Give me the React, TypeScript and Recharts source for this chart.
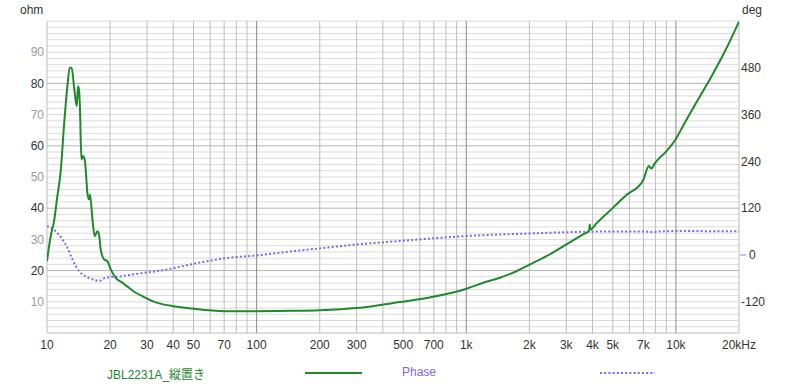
import React from 'react';
import { LineChart, Line, XAxis, YAxis, ReferenceLine, Legend } from 'recharts';

// impedance (ohm), frequency in Hz
const impFreq = [10, 10.41, 10.8, 11.2, 11.63, 12.05, 12.51, 12.83, 13.12, 13.45, 13.86, 14.06, 14.21, 14.37, 14.59, 14.85, 15.13, 15.3, 15.58, 15.86, 16.04, 16.47, 16.89, 17.4, 17.71, 18.04, 18.71, 19.42, 20.14, 21.27, 22.89, 24.62, 26.5, 28.5, 31.8, 36.2, 40, 50, 70, 100, 150, 200, 300, 481, 694, 1002, 1203, 1445, 1736, 2084, 2502, 3006, 3608, 3860, 3882, 3910, 4200, 5000, 5808, 6976, 7432, 7640, 7918, 9016, 10000, 10800, 12500, 14800, 17000, 20000];
const impOhm = [23, 31, 35.8, 43.8, 52, 66.3, 79.1, 85, 85, 79.1, 72.7, 79.1, 78, 71.6, 55.6, 56.7, 55.5, 52.4, 44.9, 42.8, 44.4, 36.4, 31, 32.6, 31.6, 26.8, 23.6, 23, 20.4, 17.7, 16.1, 14.5, 12.9, 11.8, 10.2, 9.1, 8.6, 7.75, 7.0, 7.0, 7.1, 7.3, 8.0, 9.9, 11.6, 14.2, 16.1, 17.7, 19.8, 22.5, 25.2, 28.4, 31.6, 32.8, 34.8, 33.2, 35.3, 40.1, 44.2, 48.9, 53.5, 52.7, 54.3, 58.3, 62.2, 66.3, 73.8, 82.3, 89.8, 99.8];

// phase (deg)
const phFreq = [10, 10.98, 11.84, 12.51, 13.22, 14.21, 15.3, 16.47, 17.71, 19.06, 22.05, 27.5, 36.2, 53.5, 70, 100, 120, 200, 300, 481, 694, 1002, 2084, 4000, 7000, 7800, 8500, 10000, 20000];
const phDeg = [74, 61.4, 40, 19, -11, -41, -55, -62, -66.5, -58, -55, -47.6, -38.4, -19.5, -8.5, -1, 4, 17, 27, 35.8, 42.7, 48.6, 55.5, 59.9, 60.5, 58.8, 60.5, 61.4, 60.6];

const xTicks = [10, 20, 30, 40, 50, 70, 100, 200, 300, 500, 700, 1000, 2000, 3000, 4000, 5000, 7000, 10000, 20000];
const xTickLabels = ['10', '20', '30', '40', '50', '70', '100', '200', '300', '500', '700', '1k', '2k', '3k', '4k', '5k', '7k', '10k', '20kHz'];
const ohmTicks = [10, 20, 30, 40, 50, 60, 70, 80, 90];
const degTicks = [-120, 0, 120, 240, 360, 480];

const impName = 'JBL2231A_縦置き';
const phName = 'Phase';

const GREEN = '#22882e';
const PURPLE = '#7b68ee';
const FONT = '"Liberation Sans", "Noto Sans CJK JP", sans-serif';

const impData = impFreq.map((f, i) => ({ f, v: impOhm[i] }));
const phData = phFreq.map((f, i) => ({ f, v: phDeg[i] }));

// grid lines: every 2 ohm, majors every 20; log minors per decade
const hMinor: number[] = [];
for (let v = 2; v <= 100; v += 2) if (v % 20 !== 0 || v === 100) hMinor.push(v);
const hMajor = [20, 40, 60, 80];
const vMinor: number[] = [];
[10, 100, 1000, 10000].forEach(d => {
  for (let k = 2; k <= 9; k++) if (d * k <= 20000) vMinor.push(d * k);
});
const vMajor = [100, 1000, 10000];

const XTick = ({ x, y, payload }: any) => {
  const i = xTicks.indexOf(payload.value);
  return (
    <text x={x} y={y + 12} dy="0.355em" textAnchor="middle" fill="#333" fontSize={12} fontFamily={FONT}>
      {xTickLabels[i]}
    </text>
  );
};

const OhmTick = ({ x, y, payload }: any) => (
  <text x={x} y={y} dy="0.355em" textAnchor="end" fill={payload.value % 20 === 0 ? '#333' : '#999'} fontSize={12} fontFamily={FONT}>
    {payload.value}
  </text>
);

const DegTick = ({ x, y, payload }: any) => {
  if (payload.value === 0) {
    return (
      <g>
        <line x1={x - 1} x2={x + 5} y1={y} y2={y} stroke="#6495ed" strokeWidth={1} />
        <text x={x + 8} y={y} dy="0.355em" textAnchor="start" fill="#333" fontSize={12} fontFamily={FONT}>0</text>
      </g>
    );
  }
  return (
    <text x={x} y={y} dy="0.355em" textAnchor="start" fill="#333" fontSize={12} fontFamily={FONT}>
      {payload.value}
    </text>
  );
};

const LegendBox = () => (
  <div style={{ position: 'relative', width: 800, height: 22, fontFamily: FONT, fontSize: 12 }}>
    <span style={{ position: 'absolute', left: 107, top: 3, color: GREEN }}>{impName}</span>
    <div style={{ position: 'absolute', left: 305, top: 10, width: 57, borderTop: `2px solid ${GREEN}` }} />
    <span style={{ position: 'absolute', left: 402, top: 3, color: PURPLE }}>{phName}</span>
    <svg style={{ position: 'absolute', left: 600, top: 9 }} width={56} height={4}>
      <line x1={0} x2={55} y1={2} y2={2} stroke={PURPLE} strokeWidth={2} strokeDasharray="2 2.2" />
    </svg>
  </div>
);

export default function App() {
  return (
    <div style={{ position: 'absolute', left: 0, top: 0, width: 800, height: 387, background: '#fff', fontFamily: FONT }}>
      <span style={{ position: 'absolute', left: 20, top: 3, fontSize: 12, color: '#333' }}>ohm</span>
      <span style={{ position: 'absolute', left: 742, top: 3, fontSize: 12, color: '#333' }}>deg</span>
      <LineChart width={800} height={387} margin={{ top: 21, right: 0, bottom: 0, left: 0 }}>
        <XAxis
          dataKey="f"
          type="number"
          scale="log"
          domain={[10, 20000]}
          ticks={xTicks}
          interval={0}
          allowDataOverflow
          height={54}
          axisLine={false}
          tickLine={false}
          tickSize={0}
          tickMargin={0}
          tick={<XTick />}
        />
        <YAxis
          yAxisId="ohm"
          orientation="left"
          type="number"
          domain={[0, 100]}
          ticks={ohmTicks}
          interval={0}
          width={47}
          axisLine={false}
          tickLine={false}
          tickSize={0}
          tickMargin={3}
          tick={<OhmTick />}
        />
        <YAxis
          yAxisId="deg"
          orientation="right"
          type="number"
          domain={[-200, 600]}
          ticks={degTicks}
          interval={0}
          width={61}
          axisLine={false}
          tickLine={false}
          tickSize={0}
          tickMargin={2}
          tick={<DegTick />}
        />
        {hMinor.map(v => (
          <ReferenceLine key={`hm${v}`} yAxisId="ohm" y={v} stroke="#dcdcdc" strokeWidth={1} />
        ))}
        {vMinor.map(v => (
          <ReferenceLine key={`vm${v}`} yAxisId="ohm" x={v} stroke="#bdbdbd" strokeWidth={1} />
        ))}
        {hMajor.map(v => (
          <ReferenceLine key={`hM${v}`} yAxisId="ohm" y={v} stroke="#b5b5b5" strokeWidth={1} />
        ))}
        <ReferenceLine yAxisId="ohm" y={0} stroke="#bdbdbd" strokeWidth={1} />
        <ReferenceLine yAxisId="ohm" x={10} stroke="#bdbdbd" strokeWidth={1} />
        {vMajor.map(v => (
          <ReferenceLine key={`vM${v}`} yAxisId="ohm" x={v} stroke="#8a8a8a" strokeWidth={1} />
        ))}
        <Line
          yAxisId="deg"
          data={phData}
          dataKey="v"
          name={phName}
          type="monotone"
          stroke={PURPLE}
          strokeWidth={2}
          strokeDasharray="2 2.2"
          dot={false}
          isAnimationActive={false}
        />
        <Line
          yAxisId="ohm"
          data={impData}
          dataKey="v"
          name={impName}
          type="monotone"
          stroke={GREEN}
          strokeWidth={2}
          dot={false}
          isAnimationActive={false}
        />
        <Legend
          layout="horizontal"
          verticalAlign="middle"
          align="center"
          wrapperStyle={{ top: 362, left: 0, width: 800, height: 22 }}
          content={<LegendBox />}
        />
      </LineChart>
    </div>
  );
}
